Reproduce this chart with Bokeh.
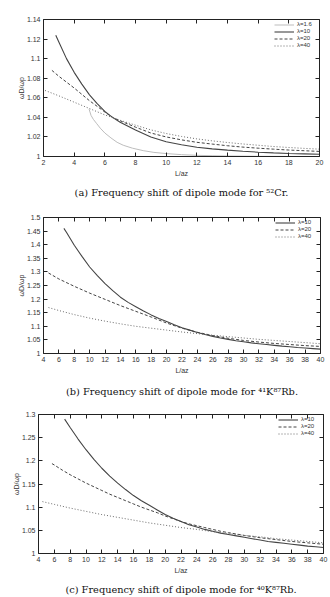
from bokeh.plotting import figure
from bokeh.layouts import column
from bokeh.models import (Range1d, FixedTicker, CustomJSTickFormatter, LinearAxis,
                          Legend, LegendItem)
from bokeh.embed import file_html
from bokeh.resources import INLINE

# ---------------- Panel (a): 52Cr ----------------
a_x_ticks = [2, 4, 6, 8, 10, 12, 14, 16, 18, 20]
a_y_ticks = [1.0, 1.02, 1.04, 1.06, 1.08, 1.1, 1.12, 1.14]

a_l16_x = [4.97, 5.1, 5.25, 5.45, 5.7, 6.0, 6.4, 6.8, 7.2, 7.8, 8.5, 9.2, 10, 11, 12, 13, 14, 16, 18, 20]
a_l16_y = [1.0485, 1.042, 1.038, 1.034, 1.029, 1.024, 1.019, 1.0145, 1.0115, 1.0085, 1.006, 1.0042,
           1.003, 1.0019, 1.0012, 1.0008, 1.0005, 1.0002, 1.0001, 1.0]

a_l10_x = [2.8, 3, 3.5, 4, 4.5, 5, 5.5, 6, 6.5, 7, 8, 9, 10, 11, 12, 13, 14, 15, 16, 17, 18, 19, 20]
a_l10_y = [1.124, 1.117, 1.100, 1.086, 1.074, 1.063, 1.054, 1.046, 1.040, 1.035, 1.027, 1.020, 1.015,
           1.012, 1.0095, 1.0078, 1.0065, 1.0053, 1.0044, 1.0037, 1.0031, 1.0027, 1.0023]

a_l20_x = [2.55, 3, 4, 5, 6, 6.5, 7, 8, 9, 10, 11, 12, 13, 14, 15, 16, 17, 18, 19, 20]
a_l20_y = [1.088, 1.082, 1.070, 1.057, 1.0455, 1.040, 1.0365, 1.030, 1.024, 1.020, 1.017, 1.0145,
           1.0127, 1.011, 1.0096, 1.0085, 1.0075, 1.0066, 1.0059, 1.0052]

a_l40_x = [2.1, 3, 4, 5, 6, 7, 8, 9, 10, 11, 12, 13, 14, 15, 16, 17, 18, 19, 20]
a_l40_y = [1.0675, 1.062, 1.0555, 1.049, 1.0425, 1.037, 1.032, 1.0272, 1.0235, 1.0205, 1.018, 1.016,
           1.0143, 1.0128, 1.0115, 1.0102, 1.0092, 1.0083, 1.0075]

# ---------------- Panel (b): 41K87Rb ----------------
b_x_ticks = list(range(4, 41, 2))
b_y_ticks = [1.0, 1.05, 1.1, 1.15, 1.2, 1.25, 1.3, 1.35, 1.4, 1.45, 1.5]

b_l10_x = [6.65, 7, 8, 9, 10, 11, 12, 13, 14, 15, 16, 17, 18, 19, 20, 21, 22, 23, 24, 25, 26, 27, 28,
           29, 30, 31, 32, 33, 34, 35, 36, 37, 38, 39, 40]
b_l10_y = [1.46, 1.445, 1.398, 1.357, 1.318, 1.286, 1.257, 1.231, 1.207, 1.188, 1.172, 1.156, 1.142,
           1.129, 1.118, 1.106, 1.095, 1.086, 1.077, 1.070, 1.063, 1.057, 1.052, 1.047, 1.043, 1.039,
           1.036, 1.033, 1.030, 1.027, 1.025, 1.022, 1.020, 1.018, 1.016]

b_l20_x = [4.65, 6, 8, 10, 12, 14, 16, 18, 20, 22, 24, 26, 28, 30, 32, 34, 36, 38, 40]
b_l20_y = [1.296, 1.274, 1.247, 1.222, 1.199, 1.176, 1.155, 1.134, 1.112, 1.093, 1.078, 1.066, 1.056,
           1.048, 1.042, 1.037, 1.033, 1.029, 1.026]

b_l40_x = [4.65, 6, 8, 10, 12, 14, 16, 18, 20, 22, 24, 26, 28, 30, 32, 34, 36, 38, 40]
b_l40_y = [1.169, 1.158, 1.143, 1.130, 1.119, 1.109, 1.100, 1.093, 1.086, 1.079, 1.073, 1.067, 1.062,
           1.057, 1.052, 1.048, 1.044, 1.040, 1.036]

# ---------------- Panel (c): 40K87Rb ----------------
c_x_ticks = list(range(4, 41, 2))
c_y_ticks = [1.0, 1.05, 1.1, 1.15, 1.2, 1.25, 1.3]

c_l10_x = [7.3, 8, 9, 10, 11, 12, 13, 14, 15, 16, 17, 18, 19, 20, 21, 22, 23, 24, 25, 26, 27, 28, 29,
           30, 31, 32, 33, 34, 35, 36, 37, 38, 39, 40]
c_l10_y = [1.29, 1.272, 1.247, 1.224, 1.203, 1.184, 1.167, 1.152, 1.138, 1.125, 1.114, 1.104, 1.094,
           1.084, 1.076, 1.069, 1.062, 1.057, 1.052, 1.048, 1.044, 1.041, 1.038, 1.035, 1.032, 1.029,
           1.026, 1.024, 1.022, 1.020, 1.018, 1.016, 1.0145, 1.013]

c_l20_x = [5.7, 6, 7, 8, 9, 10, 11, 12, 13, 14, 15, 16, 17, 18, 19, 20, 21, 22, 23, 24, 25, 26, 27, 28,
           29, 30, 32, 34, 36, 38, 40]
c_l20_y = [1.194, 1.191, 1.180, 1.170, 1.161, 1.152, 1.144, 1.136, 1.128, 1.121, 1.114, 1.107, 1.100,
           1.094, 1.088, 1.081, 1.075, 1.069, 1.064, 1.060, 1.056, 1.052, 1.048, 1.045, 1.042, 1.039,
           1.034, 1.030, 1.026, 1.023, 1.020]

c_l40_x = [4.5, 6, 8, 10, 12, 14, 16, 18, 20, 22, 24, 26, 28, 30, 32, 34, 36, 38, 40]
c_l40_y = [1.112, 1.106, 1.098, 1.091, 1.084, 1.078, 1.072, 1.066, 1.061, 1.056, 1.052, 1.047, 1.043,
           1.039, 1.036, 1.032, 1.029, 1.026, 1.023]

captions = ["(a) Frequency shift of dipole mode for \u2075\u00b2Cr.",
            "(b) Frequency shift of dipole mode for \u2074\u00b9K\u2078\u2077Rb.",
            "(c) Frequency shift of dipole mode for \u2074\u2070K\u2078\u2077Rb."]

STYLE = {
    "\u03bb=1.6": dict(line_color="#bdbdbd", line_width=1.0, line_dash="solid"),
    "\u03bb=10": dict(line_color="#444444", line_width=1.1, line_dash="solid"),
    "\u03bb=20": dict(line_color="#444444", line_width=1.0, line_dash="3 2"),
    "\u03bb=40": dict(line_color="#6a6a6a", line_width=1.0, line_dash="1 2"),
}

FMT = CustomJSTickFormatter(code="return (Math.round(tick*10000)/10000).toString();")
EMPTY = CustomJSTickFormatter(code="return '';")
TICK_FONT = "Liberation Sans"


def style_axis(ax, ticks, show):
    ax.ticker = FixedTicker(ticks=ticks)
    ax.major_tick_in = 4
    ax.major_tick_out = 0
    ax.minor_tick_in = 0
    ax.minor_tick_out = 0
    ax.axis_line_color = "#222222"
    ax.axis_line_width = 1
    ax.major_tick_line_color = "#222222"
    if show:
        ax.formatter = FMT
        ax.major_label_text_font = TICK_FONT
        ax.major_label_text_font_size = "7px"
        ax.major_label_text_color = "#333333"
        ax.major_label_standoff = 3
        ax.axis_label_text_font = TICK_FONT
        ax.axis_label_text_font_size = "7px"
        ax.axis_label_text_font_style = "normal"
        ax.axis_label_text_color = "#333333"
        ax.axis_label_standoff = 2
    else:
        ax.formatter = EMPTY
        ax.major_label_text_font_size = "1px"
        ax.major_label_standoff = 0


def make_panel(h, xr, yr, xt, yt, series, caption, bl, br, bt, bb, cap_standoff):
    p = figure(width=330, height=h, x_range=Range1d(*xr), y_range=Range1d(*yr),
               output_backend="svg", toolbar_location=None,
               min_border_left=bl, min_border_right=br, min_border_top=bt, min_border_bottom=bb,
               x_axis_label="L/az", y_axis_label="\u03c9D/\u03c9p")
    p.frame_align = False
    p.xgrid.visible = False
    p.ygrid.visible = False
    p.outline_line_color = None
    p.background_fill_color = "white"
    p.border_fill_color = "white"
    style_axis(p.xaxis[0], xt, True)
    style_axis(p.yaxis[0], yt, True)
    p.yaxis[0].axis_label_standoff = -1
    top = LinearAxis()
    right = LinearAxis()
    style_axis(top, xt, False)
    style_axis(right, yt, False)
    p.add_layout(top, "above")
    p.add_layout(right, "right")

    # caption: an extra, invisible axis below carrying the caption as its label
    cap = LinearAxis(ticker=FixedTicker(ticks=[]), formatter=EMPTY)
    cap.axis_line_color = None
    cap.major_tick_line_color = None
    cap.minor_tick_line_color = None
    cap.major_tick_out = 0
    cap.major_tick_in = 0
    cap.minor_tick_out = 0
    cap.minor_tick_in = 0
    cap.major_label_text_font_size = "1px"
    cap.major_label_standoff = 0
    cap.axis_label = caption
    cap.axis_label_text_font = "DejaVu Serif"
    cap.axis_label_text_font_size = "9.8px"
    cap.axis_label_text_font_style = "normal"
    cap.axis_label_text_color = "#111111"
    cap.axis_label_standoff = cap_standoff
    p.add_layout(cap, "below")

    items = []
    for name, xs, ys in series:
        r = p.line(xs, ys, **STYLE[name])
        items.append(LegendItem(label=name, renderers=[r]))
    leg = Legend(items=items, location="top_right")
    leg.background_fill_alpha = 0
    leg.border_line_color = None
    leg.label_text_font = TICK_FONT
    leg.label_text_font_size = "6px"
    leg.label_text_color = "#333333"
    leg.label_height = 5
    leg.glyph_height = 5
    leg.glyph_width = 20
    leg.spacing = 1
    leg.padding = 3
    leg.margin = 2
    leg.label_standoff = 3
    p.add_layout(leg)
    return p


pa = make_panel(200, (2, 20), (1.0, 1.14), a_x_ticks, a_y_ticks,
                [("\u03bb=1.6", a_l16_x, a_l16_y), ("\u03bb=10", a_l10_x, a_l10_y),
                 ("\u03bb=20", a_l20_x, a_l20_y), ("\u03bb=40", a_l40_x, a_l40_y)],
                captions[0], 43, 11, 19, 44, 7)
pb = make_panel(199, (4, 40), (1.0, 1.5), b_x_ticks, b_y_ticks,
                [("\u03bb=10", b_l10_x, b_l10_y), ("\u03bb=20", b_l20_x, b_l20_y),
                 ("\u03bb=40", b_l40_x, b_l40_y)],
                captions[1], 43, 10, 17, 45, 9)
pc = make_panel(198, (4, 40), (1.0, 1.3), c_x_ticks, c_y_ticks,
                [("\u03bb=10", c_l10_x, c_l10_y), ("\u03bb=20", c_l20_x, c_l20_y),
                 ("\u03bb=40", c_l40_x, c_l40_y)],
                captions[2], 38, 7, 15, 41, 7)

layout = column(pa, pb, pc, spacing=0)
open("out.html", "w").write(file_html(layout, INLINE))
